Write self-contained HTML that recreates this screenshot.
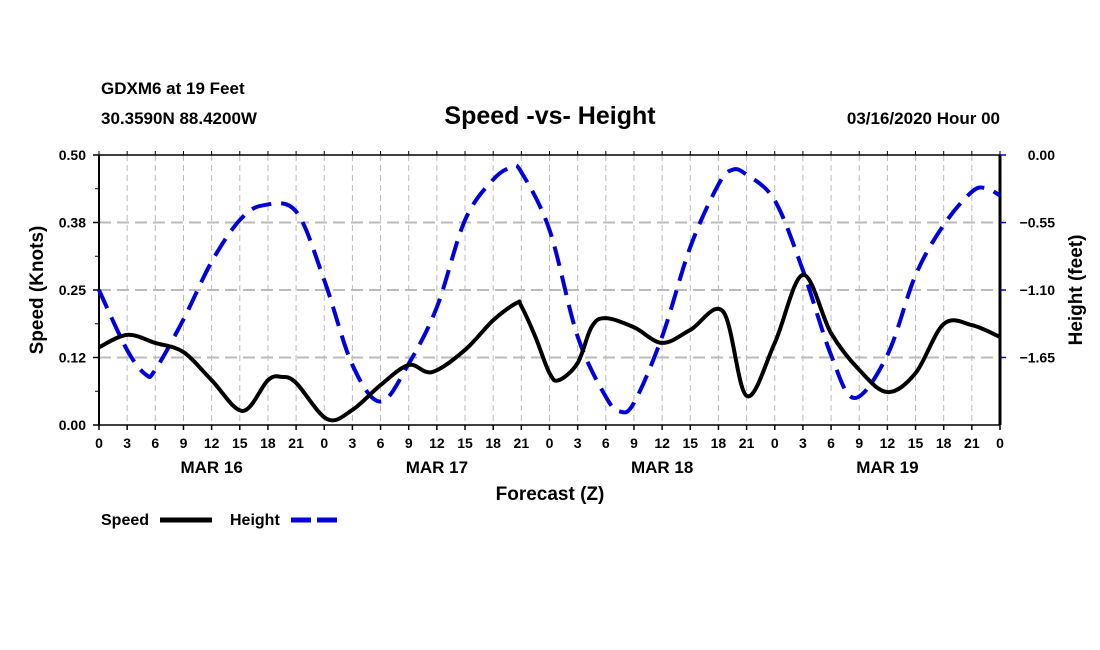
<!DOCTYPE html>
<html><head><meta charset="utf-8"><style>
body{margin:0;background:#fff;}
svg{display:block;font-family:"Liberation Sans",Arial,sans-serif;font-weight:bold;}
</style></head><body>
<svg id="chart" width="1100" height="650">
<text x="101" y="94" font-size="17">GDXM6 at 19 Feet</text>
<text x="101" y="124" font-size="17">30.3590N 88.4200W</text>
<text x="550" y="124" font-size="25" text-anchor="middle">Speed -vs- Height</text>
<text x="1000" y="124" font-size="17" text-anchor="end">03/16/2020 Hour 00</text>
<g id="grid"></g><g id="axes"></g><g id="series"></g>
<text x="550" y="500" font-size="19" text-anchor="middle">Forecast (Z)</text>
<text transform="translate(43,290) rotate(-90)" font-size="19" text-anchor="middle">Speed (Knots)</text>
<text transform="translate(1082,290) rotate(-90)" font-size="19" text-anchor="middle">Height (feet)</text>
<g>
<text x="101" y="525" font-size="16">Speed</text>
<line x1="160" y1="520" x2="212" y2="520" stroke="#000" stroke-width="5"/>
<text x="230" y="525" font-size="16">Height</text>
<line x1="291" y1="520" x2="343" y2="520" stroke="#0000dd" stroke-width="5" stroke-dasharray="20 6"/>
</g>
</svg>
<script>
const speedHours=[0,3,6,9,12,15.3,18,19.5,21,24.3,27,30,33,35.5,39,42,44.5,45,46.5,48,49,51,52.5,54,57,60,63,66.5,69,72,75,78,81,84,87,90,93,96];
const speedValues=[0.144,0.167,0.152,0.135,0.083,0.026,0.083,0.089,0.078,0.011,0.028,0.074,0.111,0.098,0.139,0.194,0.226,0.22,0.163,0.096,0.083,0.115,0.182,0.198,0.181,0.152,0.176,0.210,0.054,0.152,0.278,0.170,0.102,0.061,0.096,0.187,0.185,0.163];
const heightHours=[0,3,5,6,9,12,15,17.5,21,24,27,30,33,36,39,42,44,45,48,51,54,55.5,57,60,63,66,67.5,69,72,75,78,80.5,84,87,90,93,94.5,96];
const heightValues=[-1.10,-1.59,-1.79,-1.75,-1.34,-0.87,-0.53,-0.41,-0.46,-1.02,-1.71,-2.01,-1.70,-1.24,-0.53,-0.20,-0.10,-0.14,-0.61,-1.48,-1.97,-2.09,-2.02,-1.48,-0.75,-0.24,-0.12,-0.16,-0.37,-0.94,-1.63,-1.98,-1.63,-0.98,-0.57,-0.30,-0.27,-0.33];
const speedTicks=["0.00","0.12","0.25","0.38","0.50"];
const heightTicks=["0.00","-0.55","-1.10","-1.65"];
const hourLabels=["0","3","6","9","12","15","18","21"];
const dayLabels=["MAR 16","MAR 17","MAR 18","MAR 19"];
const L=99,R=1000,T=155,B=425;
const xS=h=>L+h*(R-L)/96;
const yS=v=>B-v*(B-T)/0.5;
const yH=v=>T-v*(B-T)/2.2;
const NS="http://www.w3.org/2000/svg";
function mk(tag,attrs,parent){const e=document.createElementNS(NS,tag);for(const k in attrs)e.setAttribute(k,attrs[k]);parent.appendChild(e);return e;}
const grid=document.getElementById('grid'),axes=document.getElementById('axes'),ser=document.getElementById('series');
for(let i=1;i<32;i++){const x=xS(i*3);
 const g=mk('line',{x1:x,y1:T,x2:x,y2:B,stroke:'#bbb','stroke-width':1,'stroke-dasharray':'6 4'},grid);
 
 }
for(let i=1;i<4;i++){const y=yS(i*0.125);
 const g=mk('line',{x1:L,y1:y,x2:R,y2:y,stroke:'#bbb','stroke-width':2,'stroke-dasharray':'12 6'},grid);
 
 }
mk('line',{x1:L,y1:T,x2:R,y2:T,stroke:'#000','stroke-width':1.5},axes);
mk('line',{x1:L,y1:B,x2:R,y2:B,stroke:'#000','stroke-width':1.5},axes);
mk('line',{x1:L,y1:T,x2:L,y2:B,stroke:'#000','stroke-width':2},axes);
mk('line',{x1:R,y1:T,x2:R,y2:B,stroke:'#000','stroke-width':3},axes);
for(let i=0;i<=32;i++){const x=xS(i*3);
 mk('line',{x1:x,y1:B,x2:x,y2:B+5,stroke:'#000','stroke-width':1.5},axes);
 mk('line',{x1:x,y1:T,x2:x,y2:T-4,stroke:'#000','stroke-width':1},axes);
 const t=mk('text',{x:x,y:B+23,'font-size':14,'text-anchor':'middle'},axes);
 t.textContent=hourLabels[i%8];
 
 }
dayLabels.forEach((d,i)=>{const t=mk('text',{x:xS(12+24*i),y:B+48,'font-size':17,'text-anchor':'middle'},axes);
 t.textContent=d;
 
 });
speedTicks.forEach((s,i)=>{const y=yS(i*0.125);
 mk('line',{x1:L-6,y1:y,x2:L,y2:y,stroke:'#000','stroke-width':1.5},axes);
 const t=mk('text',{x:L-13,y:y+5,'font-size':14,'text-anchor':'end'},axes);
 t.textContent=s;
 
 });
for(let i=0;i<4;i++){const y=yS(i*0.125+0.0625);mk('line',{x1:L-4,y1:y,x2:L,y2:y,stroke:'#000','stroke-width':1},axes);}
heightTicks.forEach((s,i)=>{const y=yH(parseFloat(s));
 mk('line',{x1:R,y1:y,x2:R+6,y2:y,stroke:'#00c','stroke-width':1.5},axes);
 const t=mk('text',{x:R+55,y:y+5,'font-size':14,'text-anchor':'end'},axes);
 t.textContent=s.replace('-','\u2212');
 
 });
function path(xs,ys){const p=xs.map((x,i)=>[x,ys[i]]);let d='M'+p[0][0]+','+p[0][1];
 for(let i=0;i<p.length-1;i++){const p0=p[Math.max(0,i-1)],p1=p[i],p2=p[i+1],p3=p[Math.min(p.length-1,i+2)];
 const c1=[p1[0]+(p2[0]-p0[0])/6,p1[1]+(p2[1]-p0[1])/6],c2=[p2[0]-(p3[0]-p1[0])/6,p2[1]-(p3[1]-p1[1])/6];
 d+=` C${c1[0]},${c1[1]} ${c2[0]},${c2[1]} ${p2[0]},${p2[1]}`;}return d;}
const hp=mk('path',{d:path(heightHours.map(xS),heightValues.map(yH)),fill:'none',stroke:'#0000dd','stroke-width':4,'stroke-dasharray':'20 10'},ser);


const sp=mk('path',{d:path(speedHours.map(xS),speedValues.map(yS)),fill:'none',stroke:'#000','stroke-width':4,'stroke-linejoin':'round'},ser);


</script>
</body></html>
